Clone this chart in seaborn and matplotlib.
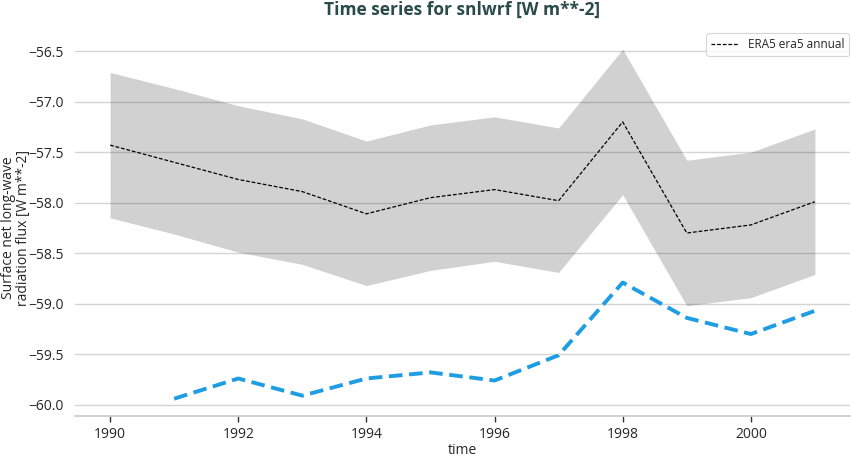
import matplotlib
matplotlib.use("Agg")
import matplotlib.pyplot as plt
import seaborn as sns
import pandas as pd
import numpy as np

years = [1990, 1991, 1992, 1993, 1994, 1995, 1996, 1997, 1998, 1999, 2000, 2001]
era5_mean = [-57.43, -57.60, -57.77, -57.89, -58.11, -57.95, -57.87, -57.98, -57.20, -58.30, -58.22, -57.99]
era5_upper = [-56.71, -56.87, -57.04, -57.17, -57.39, -57.23, -57.15, -57.26, -56.48, -57.58, -57.50, -57.27]
era5_lower = [-58.15, -58.31, -58.49, -58.61, -58.82, -58.67, -58.58, -58.69, -57.92, -59.02, -58.94, -58.71]
other_years = [1991, 1992, 1993, 1994, 1995, 1996, 1997, 1998, 1999, 2000, 2001]
other_vals = [-59.94, -59.74, -59.91, -59.74, -59.68, -59.76, -59.51, -58.79, -59.14, -59.30, -59.07]

title = "Time series for snlwrf [W m**-2]"
ylabel = "Surface net long-wave\nradiation flux [W m**-2]"
xlabel = "time"
legend_label = "ERA5 era5 annual"

sns.set_theme(style="whitegrid")
plt.rcParams['font.family'] = ['Open Sans', 'DejaVu Sans']

fig = plt.figure(figsize=(8.51, 4.57), dpi=100)
ax = fig.add_axes([0.088, 0.09, 0.911, 0.84])

df_era = pd.DataFrame({"time": years, "val": era5_mean})
df_oth = pd.DataFrame({"time": other_years, "val": other_vals})

ax.fill_between(years, era5_lower, era5_upper, color="k", alpha=0.2, linewidth=0, zorder=3)
sns.lineplot(data=df_era, x="time", y="val", ax=ax, color="black", linestyle=(0, (3, 1.5)),
             linewidth=0.9, label=legend_label, zorder=4)
sns.lineplot(data=df_oth, x="time", y="val", ax=ax, color="#1f9de2", linestyle=(0, (3.5, 1.7)),
             linewidth=2.8, zorder=4)

ax.grid(axis="x", visible=False)
ax.grid(axis="y", color="#d4d4d4", linewidth=1.0)
for gl in ax.get_ygridlines():
    gl.set_zorder(3.5)
for s in ["left", "right", "top"]:
    ax.spines[s].set_visible(False)
ax.spines["bottom"].set_color("#cccccc")
ax.spines["bottom"].set_linewidth(1.3)
ax.tick_params(axis="x", bottom=True, length=4, width=1, color="#333333", labelsize=10, pad=4)
ax.tick_params(axis="y", left=False, labelsize=10, pad=2)
ax.set_xticks([1990, 1992, 1994, 1996, 1998, 2000])
ax.set_yticks([-60.0, -59.5, -59.0, -58.5, -58.0, -57.5, -57.0, -56.5])
ax.set_ylim(-60.11, -56.31)
ax.set_xlabel(xlabel, fontsize=10, labelpad=1)
ax.set_ylabel(ylabel, fontsize=10, linespacing=1.0)
ax.yaxis.set_label_coords(-0.057, 0.49)
ax.set_title(title, fontsize=12.5, fontweight="bold", color="#2b4a4a", pad=12)
leg = ax.legend(loc="upper right", fontsize=8.5, frameon=True, fancybox=True,
                edgecolor="#cccccc", handlelength=2.3, borderaxespad=0.1)
leg.get_frame().set_linewidth(0.8)

fig.savefig("out.png", dpi=100)
